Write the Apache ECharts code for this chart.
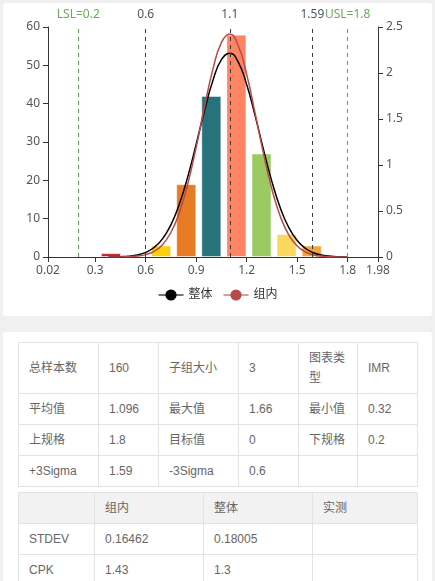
<!DOCTYPE html>
<html>
<head>
<meta charset="utf-8">
<script src="https://cdn.jsdelivr.net/npm/echarts@6/dist/echarts.min.js"></script>
<style>
  html, body { margin: 0; padding: 0; background: #f0f0f0; overflow: hidden; }
  body { width: 435px; height: 581px; position: relative;
         font-family: "Liberation Sans", Arial, "Noto Sans CJK SC", sans-serif; }
  .card { position: absolute; left: 3px; width: 429px; background: #fff; border-radius: 3px; }
  #card1 { top: 3px; height: 313px; }
  #card2 { top: 332px; height: 260px; }
  #main { width: 429px; height: 313px; }
  table { position: absolute; left: 15px; border-collapse: collapse; table-layout: fixed;
          font-size: 12px; color: #666; }
  td { border: 1px solid #e3e3e3; padding: 5px 10px; line-height: 20px; vertical-align: middle;
       word-break: break-all; }
  #t1 { top: 10px; width: 399px; }
  #t2 { top: 160px; width: 399px; }
  #t2 tr.head td { background: #f2f2f2; }
</style>
</head>
<body>
<div class="card" id="card1"><div id="main"></div></div>
<div class="card" id="card2">
  <table id="t1"></table>
  <table id="t2"></table>
</div>
<script>
// histogram bins (centres) and counts
var binCenters = [0.394, 0.543, 0.692, 0.841, 0.990, 1.139, 1.288, 1.437, 1.586];
var binCounts = [1, 0, 3, 19, 42, 58, 27, 6, 3];
var binColors = ['#C1232B', '#27727B', '#FCCE10', '#E87C25', '#27727B', '#FE8463', '#9BCA63', '#FAD860', '#F3A43B'];

// normal curves
var curveX = [0.38, 0.45, 0.5, 0.55, 0.6, 0.65, 0.7, 0.75, 0.8, 0.85, 0.9, 0.95, 1.0, 1.05, 1.1,
  1.15, 1.2, 1.25, 1.3, 1.35, 1.4, 1.45, 1.5, 1.55, 1.6, 1.65, 1.7, 1.75, 1.8];
var overall = [0.0008, 0.0035, 0.0093, 0.0223, 0.0498, 0.1031, 0.1972, 0.3496, 0.5737, 0.8712,
  1.2251, 1.5949, 1.9222, 2.1446, 2.2152, 2.1182, 1.8754, 1.5368, 1.1661, 0.8191, 0.5327,
  0.3206, 0.1788, 0.0922, 0.0440, 0.0195, 0.0080, 0.0030, 0.0011];
var within = [0.0002, 0.0011, 0.0034, 0.0099, 0.0259, 0.0617, 0.1343, 0.2663, 0.4813, 0.7935,
  1.1931, 1.6356, 2.0445, 2.3307, 2.4228, 2.2965, 1.9851, 1.5646, 1.1245, 0.7370, 0.4406,
  0.2401, 0.1193, 0.0540, 0.0223, 0.0084, 0.0029, 0.0009, 0.0003];

// reference lines
var markValues = [0.2, 0.6, 1.1, 1.59, 1.8];
var markLabels = ['LSL=0.2', '0.6', '1.1', '1.59', 'USL=1.8'];
var markIsSpec = [true, false, false, false, true];

// tables
var table1 = [
  ['总样本数', '160', '子组大小', '3', '图表类型', 'IMR'],
  ['平均值', '1.096', '最大值', '1.66', '最小值', '0.32'],
  ['上规格', '1.8', '目标值', '0', '下规格', '0.2'],
  ['+3Sigma', '1.59', '-3Sigma', '0.6', '', '']
];
var table1Widths = [80, 60, 80, 60, 59, 60];
var table2Head = ['', '组内', '整体', '实测'];
var table2 = [
  ['STDEV', '0.16462', '0.18005', ''],
  ['CPK', '1.43', '1.3', '']
];
var table2Widths = [76, 109, 109, 105];

function buildTable(el, head, rows, widths) {
  var html = '<colgroup>' + widths.map(function (w) { return '<col style="width:' + w + 'px">'; }).join('') + '</colgroup>';
  if (head) {
    html += '<tr class="head">' + head.map(function (c) { return '<td>' + c + '</td>'; }).join('') + '</tr>';
  }
  rows.forEach(function (r) {
    html += '<tr>' + r.map(function (c) { return '<td>' + c + '</td>'; }).join('') + '</tr>';
  });
  el.innerHTML = html;
}
buildTable(document.getElementById('t1'), null, table1, table1Widths);
buildTable(document.getElementById('t2'), table2Head, table2, table2Widths);

var chartDom = document.getElementById('main');
var myChart = echarts.init(chartDom);
var option;

var barData = [];
binCenters.forEach(function (c, i) {
  if (binCounts[i] > 0) {
    barData.push({ value: [c, binCounts[i]], itemStyle: { color: binColors[i] } });
  }
});

var markData = markValues.map(function (v, i) {
  var col = markIsSpec[i] ? '#5ea84c' : '#2f3d4c';
  return {
    xAxis: v,
    lineStyle: { color: col, type: [4, 4], width: 1 },
    label: { formatter: markLabels[i], color: markIsSpec[i] ? '#6aab5b' : '#4a5666' }
  };
});

var axisLabel = { color: '#555', fontSize: 12 };
var axisLine = { show: true, lineStyle: { color: '#333' } };

option = {
  animation: false,
  textStyle: { fontFamily: '"Noto Sans", "Noto Sans CJK SC", sans-serif' },
  grid: { left: 45, right: 54, top: 24, bottom: 59 },
  legend: {
    bottom: 10,
    left: 'center',
    itemGap: 10,
    itemWidth: 25,
    textStyle: { color: '#333', fontSize: 12 },
    lineStyle: { opacity: 0.55 },
    data: ['整体', '组内']
  },
  xAxis: {
    type: 'value',
    min: 0.02,
    max: 1.98,
    splitLine: { show: false },
    axisLine: axisLine,
    axisTick: { show: true, lineStyle: { color: '#333' } },
    axisLabel: axisLabel
  },
  yAxis: [
    {
      type: 'value', min: 0, max: 60, interval: 10,
      splitLine: { show: false },
      axisLine: axisLine,
      axisTick: { show: true, lineStyle: { color: '#333' } },
      axisLabel: axisLabel
    },
    {
      type: 'value', min: 0, max: 2.5, interval: 0.5,
      splitLine: { show: false },
      axisLine: axisLine,
      axisTick: { show: true, lineStyle: { color: '#333' } },
      axisLabel: axisLabel
    }
  ],
  series: [
    {
      name: '频数',
      type: 'bar',
      yAxisIndex: 0,
      barWidth: 20,
      itemStyle: { borderColor: 'rgba(255,255,255,0.45)', borderWidth: 1 },
      data: barData,
      markLine: {
        silent: true,
        symbol: ['none', 'none'],
        label: { position: 'end', fontSize: 12, distance: 6 },
        data: markData
      }
    },
    {
      name: '整体',
      type: 'line',
      yAxisIndex: 1,
      smooth: true,
      symbol: 'circle',
      symbolSize: 9,
      showSymbol: false,
      itemStyle: { color: '#000' },
      lineStyle: { color: '#000', width: 1.5 },
      data: curveX.map(function (x, i) { return [x, overall[i]]; })
    },
    {
      name: '组内',
      type: 'line',
      yAxisIndex: 1,
      smooth: true,
      symbol: 'circle',
      symbolSize: 9,
      showSymbol: false,
      itemStyle: { color: '#b84a4a' },
      lineStyle: { color: '#b84a4a', width: 1.5 },
      data: curveX.map(function (x, i) { return [x, within[i]]; })
    }
  ]
};
myChart.setOption(option);
</script>
</body>
</html>
